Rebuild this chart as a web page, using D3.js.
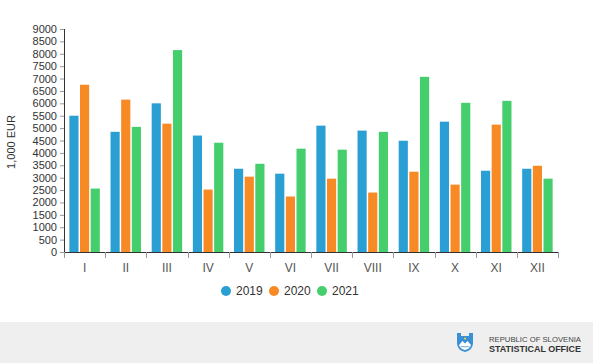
<!DOCTYPE html>
<html>
<head>
<meta charset="utf-8">
<script src="https://cdn.jsdelivr.net/npm/d3@7"></script>
<style>
  body { margin: 0; background: #fff; }
  svg { display: block; font-family: "Liberation Sans", Arial, sans-serif; }
</style>
</head>
<body>
<div id="chart"></div>
<script>
const months = ['I', 'II', 'III', 'IV', 'V', 'VI', 'VII', 'VIII', 'IX', 'X', 'XI', 'XII'];
const years = ['2019', '2020', '2021'];
const v2019 = [5500, 4850, 6000, 4700, 3360, 3160, 5100, 4900, 4490, 5260, 3280, 3360];
const v2020 = [6750, 6150, 5180, 2520, 3040, 2240, 2960, 2400, 3240, 2720, 5140, 3480];
const v2021 = [2560, 5050, 8150, 4410, 3560, 4170, 4130, 4850, 7070, 6020, 6100, 2960];
const yTicks = d3.range(0, 9001, 500);
const colors = ['#2a9fd3', '#f78a24', '#45cf6c'];

const width = 593, height = 363;
const margin = { top: 29, left: 64, right: 35, bottom: 111 };
const plotW = width - margin.left - margin.right;
const plotH = height - margin.top - margin.bottom;

const svg = d3.select('#chart')
  .append('svg')
  .attr('width', width)
  .attr('height', height);

// footer band
svg.append('rect')
  .attr('x', 0).attr('y', 322)
  .attr('width', width).attr('height', height - 322)
  .attr('fill', '#efefef');

const g = svg.append('g')
  .attr('transform', `translate(${margin.left},${margin.top})`);

const x = d3.scaleBand().domain(months).range([0, plotW]).paddingInner(0.26).paddingOuter(0.13);
const xBand = d3.scaleBand().domain(months).range([0, plotW]);
const xSub = d3.scaleBand().domain(years).range([0, x.bandwidth()]).paddingInner(0.14);
const y = d3.scaleLinear().domain([0, 9000]).range([plotH, 0]);

const series = [v2019, v2020, v2021];

// bars
years.forEach((yr, i) => {
  g.selectAll('.bar-' + yr)
    .data(months)
    .enter()
    .append('rect')
    .attr('class', 'bar-' + yr)
    .attr('x', (d) => x(d) + xSub(yr))
    .attr('y', (d, j) => y(series[i][j]))
    .attr('width', xSub.bandwidth())
    .attr('height', (d, j) => plotH - y(series[i][j]))
    .attr('fill', colors[i]);
});

// y axis
const yAxis = g.append('g')
  .call(d3.axisLeft(y).tickValues(yTicks).tickFormat(d3.format('d')).tickSize(4).tickPadding(3));
yAxis.selectAll('text').style('font-size', '11px').attr('fill', '#333');
yAxis.selectAll('line').attr('stroke', '#999');
yAxis.select('.domain').attr('stroke', '#333').attr('d', `M0.5,0V${plotH}`);

// x axis
const xAxis = g.append('g')
  .attr('transform', `translate(0,${plotH})`)
  .call(d3.axisBottom(xBand).tickSize(0).tickPadding(11));
xAxis.selectAll('text').style('font-size', '12px').attr('fill', '#555');
xAxis.select('.domain').attr('stroke', '#333').attr('d', `M0,0.5H${plotW}`);

// band boundary ticks
g.selectAll('.xtick')
  .data(months.concat(['end']))
  .enter()
  .append('line')
  .attr('class', 'xtick')
  .attr('x1', (d, i) => Math.round(i * xBand.bandwidth()) + 0.5)
  .attr('x2', (d, i) => Math.round(i * xBand.bandwidth()) + 0.5)
  .attr('y1', plotH)
  .attr('y2', plotH + 6)
  .attr('stroke', '#999');

// y label
svg.append('text')
  .attr('transform', `translate(15,142) rotate(-90)`)
  .attr('text-anchor', 'middle')
  .style('font-size', '11px')
  .attr('fill', '#333')
  .text('1,000 EUR');

// legend
const legend = svg.append('g').attr('transform', 'translate(226,291)');
const legendX = [0, 48, 96];
years.forEach((yr, i) => {
  legend.append('circle')
    .attr('cx', legendX[i]).attr('cy', 0).attr('r', 5)
    .attr('fill', colors[i]);
  legend.append('text')
    .attr('x', legendX[i] + 10).attr('y', 4)
    .style('font-size', '12px')
    .attr('fill', '#333')
    .text(yr);
});

// logo
const logo = svg.append('g').attr('transform', 'translate(457,332)');
logo.append('path')
  .attr('d', 'M0,1 L4,1 L4,4 L12,4 L12,1 L16,1 L16,11 Q16,18 8,20 Q0,18 0,11 Z')
  .attr('fill', '#3b8fd4');
logo.append('path')
  .attr('d', 'M2,13 L5.5,9 L8,11.5 L10.5,9 L14,13 Q13,17 8,18 Q3,17 2,13 Z')
  .attr('fill', '#fff');
logo.append('path')
  .attr('d', 'M3.5,15 Q5.5,14 8,15 Q10.5,14 12.5,15')
  .attr('fill', 'none').attr('stroke', '#3b8fd4').attr('stroke-width', 0.8);
logo.append('circle').attr('cx', 8).attr('cy', 6.5).attr('r', 1).attr('fill', '#ffd84a');

svg.append('text')
  .attr('x', 489).attr('y', 342)
  .attr('textLength', 92)
  .attr('lengthAdjust', 'spacingAndGlyphs')
  .style('font-size', '7.5px')
  .attr('fill', '#444')
  .text('REPUBLIC OF SLOVENIA');
svg.append('text')
  .attr('x', 489).attr('y', 352)
  .attr('textLength', 92)
  .attr('lengthAdjust', 'spacingAndGlyphs')
  .style('font-size', '8.5px')
  .style('font-weight', 'bold')
  .attr('fill', '#333')
  .text('STATISTICAL OFFICE');
</script>
</body>
</html>
